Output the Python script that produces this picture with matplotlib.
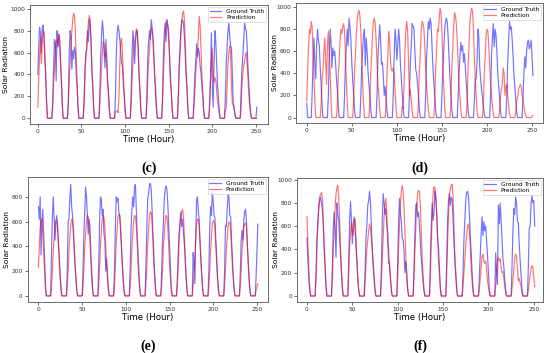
import matplotlib
matplotlib.use('Agg')
import matplotlib.pyplot as plt
import numpy as np

hours = np.arange(252)
y_label = 'Solar Radiation'
x_label = 'Time (Hour)'
panel_labels = ['(c)', '(d)', '(e)', '(f)']
x_ticks = [0, 50, 100, 150, 200, 250]

# each line below is 18 hours
c_truth = [
    400, 650, 830, 780, 600, 820, 850, 760, 560, 400, 150, 0, 0, 0, 0, 0, 0, 150,
    450, 720, 700, 340, 800, 650, 760, 700, 500, 350, 120, 0, 0, 0, 0, 0, 0, 200,
    600, 800, 750, 450, 620, 540, 650, 600, 400, 300, 100, 0, 0, 0, 0, 0, 0, 180,
    450, 600, 620, 800, 700, 900, 850, 700, 450, 300, 100, 0, 0, 0, 0, 0, 0, 200,
    550, 750, 890, 800, 600, 460, 720, 580, 350, 250, 80, 0, 0, 0, 0, 0, 0, 200,
    600, 780, 850, 800, 720, 600, 500, 480, 300, 200, 80, 0, 0, 0, 0, 0, 0, 250,
    600, 800, 700, 500, 700, 780, 800, 650, 420, 280, 90, 0, 0, 0, 0, 0, 0, 200,
    550, 700, 800, 720, 900, 820, 750, 600, 400, 280, 90, 0, 0, 0, 0, 0, 0, 220,
    600, 780, 870, 700, 900, 850, 720, 550, 350, 250, 80, 0, 0, 0, 0, 0, 0, 200,
    500, 650, 820, 890, 900, 860, 750, 580, 380, 280, 90, 0, 0, 0, 0, 0, 0, 180,
    400, 520, 680, 560, 640, 600, 480, 420, 300, 220, 80, 0, 0, 0, 0, 0, 0, 150,
    380, 780, 300, 100, 500, 800, 700, 500, 300, 200, 70, 0, 0, 0, 0, 0, 0, 200,
    500, 650, 800, 870, 750, 650, 650, 400, 150, 100, 40, 0, 0, 0, 0, 0, 0, 250,
    450, 580, 700, 870, 820, 800, 650, 450, 300, 150, 50, 0, 0, 0, 0, 0, 0, 100,
]
c_pred = [
    100, 350, 560, 730, 500, 700, 800, 780, 600, 400, 150, 0, 0, 0, 0, 0, 0, 100,
    300, 450, 620, 700, 720, 660, 770, 740, 550, 350, 130, 0, 0, 0, 0, 0, 0, 120,
    350, 500, 650, 800, 900, 960, 940, 800, 550, 330, 120, 0, 0, 0, 0, 0, 0, 120,
    350, 550, 650, 780, 880, 940, 900, 700, 450, 260, 100, 0, 0, 0, 0, 0, 0, 100,
    300, 450, 600, 700, 680, 560, 600, 500, 300, 200, 70, 0, 0, 0, 0, 0, 0, 60,
    60, 70, 50, 200, 500, 700, 730, 600, 400, 250, 90, 0, 0, 0, 0, 0, 0, 120,
    350, 500, 650, 700, 760, 820, 790, 620, 380, 230, 80, 0, 0, 0, 0, 0, 0, 120,
    350, 520, 620, 750, 820, 800, 700, 550, 350, 220, 80, 0, 0, 0, 0, 0, 0, 150,
    400, 580, 780, 880, 860, 850, 800, 600, 380, 230, 80, 0, 0, 0, 0, 0, 0, 150,
    400, 580, 750, 880, 960, 980, 900, 700, 450, 260, 90, 0, 0, 0, 0, 0, 0, 100,
    250, 400, 520, 600, 750, 930, 850, 650, 400, 230, 80, 0, 0, 0, 0, 0, 0, 120,
    350, 520, 640, 400, 330, 370, 350, 250, 150, 100, 40, 0, 0, 0, 0, 0, 0, 80,
    90, 300, 500, 600, 660, 600, 300, 130, 120, 80, 30, 0, 0, 0, 0, 0, 0, 80,
    300, 400, 480, 520, 580, 600, 500, 350, 200, 100, 30, 0, 0, 0, 0, 0, 0, 0,
]

d_truth = [
    130, 0, 0, 0, 0, 0, 200, 500, 720, 500, 350, 650, 800, 700, 650, 450, 300, 120,
    0, 0, 0, 0, 0, 0, 200, 550, 800, 680, 450, 630, 560, 600, 500, 350, 250, 100,
    0, 0, 0, 0, 0, 0, 200, 500, 650, 800, 650, 900, 820, 700, 500, 350, 220, 80,
    0, 0, 0, 0, 0, 0, 180, 450, 600, 750, 800, 470, 720, 600, 420, 300, 200, 80,
    0, 0, 0, 0, 0, 0, 200, 550, 700, 840, 700, 480, 500, 380, 200, 280, 180, 70,
    0, 0, 0, 0, 0, 0, 200, 550, 800, 700, 520, 650, 800, 700, 480, 350, 220, 80,
    0, 0, 0, 0, 0, 0, 200, 500, 650, 850, 830, 800, 600, 430, 400, 300, 200, 80,
    0, 0, 0, 0, 0, 0, 220, 550, 720, 870, 800, 900, 850, 650, 450, 320, 200, 80,
    0, 0, 0, 0, 0, 0, 200, 450, 600, 780, 870, 900, 860, 720, 520, 350, 220, 80,
    0, 0, 0, 0, 0, 0, 180, 400, 550, 680, 600, 650, 500, 580, 450, 330, 200, 70,
    0, 0, 0, 0, 0, 0, 150, 350, 350, 500, 800, 720, 450, 350, 250, 180, 100, 40,
    0, 0, 0, 0, 0, 0, 200, 550, 720, 850, 640, 800, 750, 600, 400, 280, 180, 60,
    0, 0, 0, 0, 0, 0, 200, 500, 680, 870, 800, 820, 700, 550, 380, 260, 150, 50,
    0, 0, 0, 0, 0, 0, 180, 400, 550, 450, 600, 680, 700, 620, 650, 700, 550, 380,
]
d_pred = [
    150, 420, 650, 800, 760, 870, 820, 600, 400, 150, 0, 0, 0, 0, 0, 0, 120, 350,
    420, 600, 720, 500, 300, 650, 780, 600, 400, 150, 0, 0, 0, 0, 0, 0, 120, 380,
    500, 700, 800, 760, 820, 850, 780, 550, 350, 130, 0, 0, 0, 0, 0, 0, 150, 420,
    550, 750, 880, 950, 970, 920, 780, 550, 350, 130, 0, 0, 0, 0, 0, 0, 130, 400,
    550, 750, 870, 900, 850, 700, 500, 300, 200, 80, 0, 0, 0, 0, 0, 0, 120, 380,
    550, 780, 700, 500, 430, 420, 450, 400, 250, 100, 0, 0, 0, 0, 0, 0, 100, 80,
    300, 600, 800, 870, 780, 500, 200, 250, 150, 60, 0, 0, 0, 0, 0, 0, 150, 420,
    580, 780, 870, 850, 800, 650, 450, 280, 180, 70, 0, 0, 0, 0, 0, 0, 150, 420,
    600, 800, 780, 900, 990, 950, 780, 500, 300, 100, 0, 0, 0, 0, 0, 0, 150, 450,
    620, 820, 950, 920, 850, 700, 480, 300, 180, 70, 0, 0, 0, 0, 0, 0, 150, 450,
    650, 850, 950, 990, 960, 800, 550, 350, 200, 70, 0, 0, 0, 0, 0, 0, 120, 400,
    550, 750, 800, 780, 650, 480, 300, 200, 100, 40, 0, 0, 0, 0, 0, 0, 60, 180,
    270, 300, 450, 400, 200, 280, 300, 200, 110, 40, 0, 0, 0, 0, 0, 0, 50, 150,
    180, 250, 280, 300, 280, 200, 150, 100, 50, 20, 0, 0, 0, 0, 0, 0, 10, 20,
]

e_truth = [
    720, 620, 800, 330, 600, 700, 500, 300, 100, 0, 0, 0, 0, 0, 0, 350, 650, 800,
    620, 450, 600, 650, 560, 400, 300, 150, 50, 0, 0, 0, 0, 0, 0, 200, 600, 620,
    800, 900, 720, 650, 500, 350, 250, 120, 40, 0, 0, 0, 0, 0, 0, 200, 500, 700,
    880, 800, 650, 500, 620, 550, 350, 200, 60, 0, 0, 0, 0, 0, 0, 250, 600, 800,
    780, 650, 700, 500, 450, 200, 300, 180, 60, 0, 0, 0, 0, 0, 0, 200, 550, 800,
    760, 790, 680, 650, 520, 380, 250, 130, 40, 0, 0, 0, 0, 0, 0, 250, 550, 700,
    800, 720, 880, 900, 700, 500, 350, 180, 60, 0, 0, 0, 0, 0, 0, 250, 550, 780,
    820, 900, 910, 870, 700, 500, 350, 180, 60, 0, 0, 0, 0, 0, 0, 200, 450, 600,
    780, 860, 890, 860, 750, 580, 400, 220, 70, 0, 0, 0, 0, 0, 0, 150, 350, 520,
    600, 680, 560, 620, 500, 420, 300, 150, 50, 0, 0, 0, 0, 0, 0, 350, 280, 100,
    500, 780, 800, 680, 600, 420, 300, 150, 50, 0, 0, 0, 0, 0, 0, 200, 550, 720,
    650, 840, 760, 650, 630, 450, 300, 150, 50, 0, 0, 0, 0, 0, 0, 200, 570, 560,
    700, 820, 800, 650, 640, 450, 300, 150, 50, 0, 0, 0, 0, 0, 0, 200, 450, 530,
    450, 620, 680, 700, 600, 420, 300, 150, 50, 0, 0, 0, 0, 0, 0, 150, 350, 580,
]
e_pred = [
    230, 400, 560, 610, 620, 500, 350, 200, 60, 0, 0, 0, 0, 0, 0, 80, 200, 370,
    480, 580, 610, 600, 540, 410, 240, 140, 40, 0, 0, 0, 0, 0, 0, 80, 200, 380,
    480, 580, 620, 610, 540, 400, 230, 130, 40, 0, 0, 0, 0, 0, 0, 80, 220, 400,
    510, 610, 650, 640, 570, 430, 260, 140, 40, 0, 0, 0, 0, 0, 0, 80, 220, 410,
    520, 620, 650, 630, 560, 420, 250, 140, 40, 0, 0, 0, 0, 0, 0, 80, 230, 430,
    540, 640, 660, 650, 570, 420, 250, 140, 40, 0, 0, 0, 0, 0, 0, 80, 220, 400,
    510, 610, 650, 640, 570, 430, 260, 140, 40, 0, 0, 0, 0, 0, 0, 90, 230, 420,
    530, 640, 680, 670, 590, 440, 260, 150, 40, 0, 0, 0, 0, 0, 0, 80, 210, 400,
    510, 610, 650, 640, 560, 420, 250, 140, 40, 0, 0, 0, 0, 0, 0, 90, 250, 450,
    560, 640, 680, 700, 640, 480, 280, 150, 40, 0, 0, 0, 0, 0, 0, 80, 170, 330,
    450, 580, 620, 620, 560, 420, 250, 140, 40, 0, 0, 0, 0, 0, 0, 80, 200, 370,
    480, 580, 610, 600, 540, 410, 240, 140, 40, 0, 0, 0, 0, 0, 0, 80, 200, 370,
    470, 570, 600, 590, 520, 390, 230, 130, 40, 0, 0, 0, 0, 0, 0, 80, 200, 370,
    460, 550, 580, 590, 560, 420, 250, 140, 40, 0, 0, 0, 0, 0, 0, 40, 70, 100,
]

f_truth = [
    500, 300, 150, 50, 0, 0, 0, 0, 0, 0, 200, 500, 650, 750, 820, 850, 800, 750,
    600, 400, 250, 80, 0, 0, 0, 0, 0, 0, 250, 600, 720, 600, 330, 800, 700, 650,
    500, 350, 200, 70, 0, 0, 0, 0, 0, 0, 300, 650, 810, 650, 450, 620, 680, 600,
    420, 300, 150, 50, 0, 0, 0, 0, 0, 0, 200, 500, 600, 780, 820, 900, 800, 600,
    400, 300, 180, 60, 0, 0, 0, 0, 0, 0, 250, 650, 880, 800, 700, 750, 600, 550,
    380, 250, 150, 50, 0, 0, 0, 0, 0, 0, 300, 650, 840, 700, 650, 500, 480, 380,
    200, 300, 180, 60, 0, 0, 0, 0, 0, 0, 250, 550, 780, 800, 680, 720, 600, 450,
    320, 220, 120, 40, 0, 0, 0, 0, 0, 0, 300, 600, 800, 650, 720, 900, 850, 700,
    500, 420, 250, 80, 0, 0, 0, 0, 0, 0, 300, 650, 820, 880, 780, 850, 830, 650,
    450, 300, 180, 60, 0, 0, 0, 0, 0, 0, 200, 480, 650, 820, 890, 900, 860, 720,
    520, 380, 200, 70, 0, 0, 0, 0, 0, 0, 180, 380, 530, 680, 520, 640, 560, 600,
    480, 350, 200, 60, 0, 0, 0, 0, 0, 0, 370, 200, 100, 780, 620, 800, 650, 480,
    320, 250, 150, 50, 0, 0, 0, 0, 0, 0, 250, 550, 750, 700, 850, 800, 640, 630,
    450, 300, 180, 60, 0, 0, 0, 0, 0, 0, 250, 580, 600, 800, 860, 800, 820, 600,
]
f_pred = [
    680, 450, 250, 80, 0, 0, 0, 0, 0, 0, 150, 420, 600, 780, 860, 870, 890, 840,
    650, 420, 250, 80, 0, 0, 0, 0, 0, 0, 150, 400, 550, 750, 880, 930, 950, 850,
    650, 400, 220, 70, 0, 0, 0, 0, 0, 0, 180, 420, 550, 630, 560, 520, 620, 660,
    500, 300, 160, 50, 0, 0, 0, 0, 0, 0, 100, 260, 400, 480, 560, 620, 580, 500,
    380, 220, 130, 40, 0, 0, 0, 0, 0, 0, 120, 330, 500, 680, 780, 840, 700, 450,
    280, 290, 160, 50, 0, 0, 0, 0, 0, 0, 150, 420, 620, 800, 900, 950, 900, 750,
    550, 320, 180, 60, 0, 0, 0, 0, 0, 0, 150, 400, 600, 780, 880, 910, 900, 780,
    560, 320, 180, 60, 0, 0, 0, 0, 0, 0, 180, 470, 680, 880, 940, 930, 850, 700,
    500, 300, 180, 60, 0, 0, 0, 0, 0, 0, 180, 470, 680, 860, 920, 950, 960, 850,
    620, 350, 200, 60, 0, 0, 0, 0, 0, 0, 80, 200, 300, 430, 530, 600, 620, 560,
    420, 250, 130, 40, 0, 0, 0, 0, 0, 0, 60, 150, 250, 340, 360, 300, 280, 300,
    230, 130, 80, 30, 0, 0, 0, 0, 0, 0, 80, 220, 320, 330, 300, 320, 250, 200,
    210, 150, 90, 30, 0, 0, 0, 0, 0, 0, 60, 130, 220, 330, 360, 340, 230, 130,
    150, 110, 80, 30, 0, 0, 0, 0, 0, 0, 50, 120, 180, 240, 260, 250, 150, 80,
]

panels = [
    # (truth, pred, [left, bottom, width, height], xlim, ylim, y ticks, ylabel pad)
    (c_truth, c_pred, [0.0545, 0.649, 0.433, 0.337], (-9, 264), (-52, 1035),
     [0, 200, 400, 600, 800, 1000], 1),
    (d_truth, d_pred, [0.538, 0.652, 0.449, 0.340], (-12, 262), (-48, 1038),
     [0, 200, 400, 600, 800, 1000], -1),
    (e_truth, e_pred, [0.050, 0.145, 0.437, 0.354], (-12.5, 262.5), (-48, 962),
     [0, 200, 400, 600, 800], 1),
    (f_truth, f_pred, [0.540, 0.145, 0.447, 0.351], (-11, 260), (-50, 1015),
     [0, 200, 400, 600, 800, 1000], -1),
]
label_y = [168, 168, 346, 346]

fig = plt.figure(figsize=(5.5, 3.53), dpi=100)
for (truth, pred, rect, xl, yl, yt, pad), lab, ly in zip(panels, panel_labels, label_y):
    ax = fig.add_axes(rect)
    ax.plot(hours, truth, color='blue', alpha=0.55, lw=0.85, label='Ground Truth')
    ax.plot(hours, pred, color='red', alpha=0.55, lw=0.85, label='Prediction')
    ax.set_xlim(*xl)
    ax.set_ylim(*yl)
    ax.set_xticks(x_ticks)
    ax.set_yticks(yt)
    ax.tick_params(labelsize=4.2, length=2, width=0.5, pad=1.5, colors='#333333')
    for sp in ax.spines.values():
        sp.set_linewidth(0.6)
        sp.set_color('#555555')
    ax.set_xlabel(x_label, fontsize=6.2, labelpad=1)
    ax.set_ylabel(y_label, fontsize=5.4, labelpad=pad)
    leg = ax.legend(loc='upper right', fontsize=4.2, frameon=True,
                    borderpad=0.3, handlelength=2.0, labelspacing=0.2,
                    borderaxespad=0.4, fancybox=False, edgecolor='#cccccc')
    leg.get_frame().set_linewidth(0.5)
    cx = rect[0] + rect[2] / 2
    fig.text(cx, 1 - ly / 353, lab, ha='center', va='center',
             fontsize=10, fontweight='bold', family='Liberation Serif')

fig.savefig('out.png', dpi=100, facecolor='white')
